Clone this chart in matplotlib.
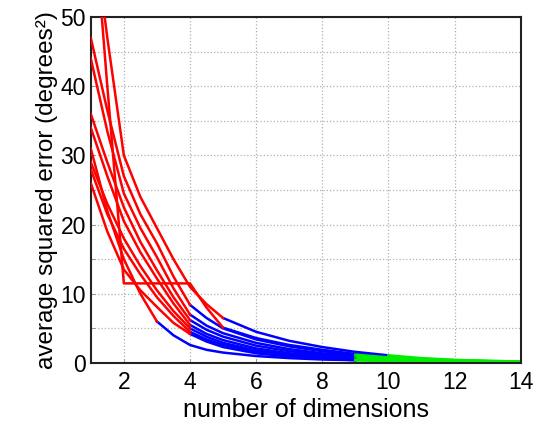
import numpy as np
import matplotlib.pyplot as plt
from matplotlib.ticker import MultipleLocator

# number of dimensions (half steps where the curves bend most)
dims = np.array([1, 1.5, 2, 2.5, 3, 3.5, 4, 4.5, 5, 6, 7, 8, 9, 10, 11, 12, 13, 14])

# average squared error per run (one row per curve)
errors = [
    [70, 40, 11.5, 11.5, 11.5, 11.5, 11.5, 8.0, 5.1, 3.6, 2.6, 1.9, 1.3, 0.9, 0.6, 0.4, 0.3, 0.2],
    [66, 47, 30, 24, 19.5, 15, 11, 8.5, 6.5, 4.5, 3.2, 2.3, 1.6, 1.1, 0.7, 0.45, 0.3, 0.2],
    [47, 36.5, 27, 21.5, 17.3, 12.5, 8.4, 6.5, 5.0, 3.4, 2.4, 1.7, 1.2, 0.8, 0.5, 0.35, 0.25, 0.15],
    [44, 33.5, 24.5, 19.5, 15.3, 10.8, 7.0, 5.4, 4.3, 2.9, 2.0, 1.4, 1.0, 0.7, 0.45, 0.3, 0.2, 0.15],
    [36, 29, 22.5, 17.5, 13.4, 9.5, 6.2, 4.8, 3.8, 2.5, 1.7, 1.2, 0.8, 0.55, 0.4, 0.3, 0.2, 0.1],
    [34, 27, 20.5, 16, 12.2, 8.6, 5.5, 4.2, 3.3, 2.1, 1.4, 1.0, 0.7, 0.5, 0.35, 0.25, 0.15, 0.1],
    [29, 23, 18, 14, 10.5, 7.5, 5.0, 3.8, 2.9, 1.8, 1.2, 0.8, 0.6, 0.4, 0.3, 0.2, 0.15, 0.1],
    [28, 21.5, 16.5, 12.8, 9.5, 6.8, 4.5, 3.4, 2.6, 1.6, 1.0, 0.7, 0.5, 0.35, 0.25, 0.2, 0.1, 0.1],
    [31, 22, 15, 10, 6.0, 4.0, 2.6, 1.9, 1.5, 1.0, 0.7, 0.5, 0.4, 0.3, 0.2, 0.15, 0.1, 0.05],
    [26, 19, 13.5, 10.5, 8.1, 5.8, 4.2, 3.1, 2.3, 1.4, 0.9, 0.6, 0.4, 0.3, 0.2, 0.15, 0.1, 0.05],
]
# number of points drawn red, and number of points up to the end of the blue part
red_end = [9, 9, 7, 7, 7, 7, 7, 7, 5, 7]
blue_end = [14, 14, 13, 13, 13, 13, 13, 13, 13, 13]

plt.rcParams['font.family'] = ['Liberation Sans', 'DejaVu Sans']

fig = plt.figure(figsize=(5.34, 4.26), dpi=100)
ax = fig.add_axes([0.170, 0.148, 0.805, 0.812])

for y, r, b in zip(errors, red_end, blue_end):
    y = np.array(y)
    ax.plot(dims[:r], y[:r], color='#ff0000', lw=1.8, zorder=3)
    ax.plot(dims[r - 1:b], y[r - 1:b], color='#0000ff', lw=1.8, zorder=2)
    ax.plot(dims[b - 1:], y[b - 1:], color='#00ee00', lw=1.8, zorder=2)

ax.set_xlim(1, 14)
ax.set_ylim(0, 50)
ax.xaxis.set_major_locator(MultipleLocator(2))
ax.yaxis.set_major_locator(MultipleLocator(10))
ax.yaxis.set_minor_locator(MultipleLocator(5))
ax.grid(True, which='major', axis='x', ls=':', color='#b0b0b0', lw=0.9)
ax.grid(True, which='both', axis='y', ls=':', color='#b0b0b0', lw=0.9)
ax.tick_params(which='both', direction='in', length=3, width=0.6, colors='#888888',
               labelcolor='black', labelsize=16.5)
ax.tick_params(axis='x', pad=6)
for s in ax.spines.values():
    s.set_linewidth(1.5)
    s.set_color('#222222')

ax.set_xlabel('number of dimensions', fontsize=18, labelpad=3)
ax.set_ylabel('average squared error (degrees²)', fontsize=17.5, labelpad=2)

fig.savefig('out.png', dpi=100)
